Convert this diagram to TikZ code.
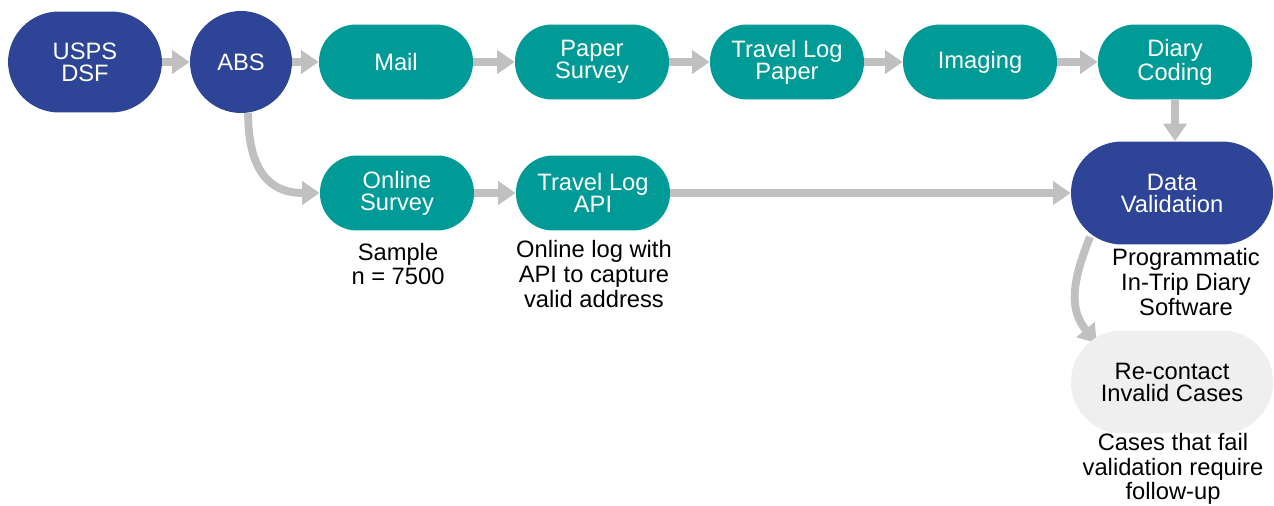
\documentclass[tikz,border=0pt]{standalone}
\usepackage{fontspec}
\setmainfont{Liberation Sans}
\usetikzlibrary{arrows.meta,backgrounds}

\definecolor{flowteal}{HTML}{009B97}
\definecolor{flowblue}{HTML}{2E4597}
\definecolor{flowgray}{HTML}{C0C0C0}
\definecolor{flowlight}{HTML}{EFEFEF}

\tikzset{
  pill/.style={rectangle,rounded corners=.74cm,minimum width=3.08cm,
    minimum height=1.5cm,inner sep=0pt,align=center,text=white,
    fill=flowteal,font=\fontsize{13.5}{12.5}\selectfont},
  bigpill/.style={pill,rounded corners=1.02cm,minimum width=4.04cm,
    minimum height=2.06cm},
  note/.style={align=center,inner sep=0pt,font=\fontsize{13.5}{14}\selectfont},
  flow/.style={draw=flowgray,line width=4.5pt,
    -{Triangle[length=10pt,width=13pt]}},
}

\begin{document}
\begin{tikzpicture}[x=.02cm,y=-.02cm]
    \useasboundingbox (0,0) rectangle (1274,506);

    %% source
    \node (usps) at (85,62) [bigpill,fill=flowblue,minimum width=3.08cm,
      minimum height=2.02cm] {USPS\\DSF};
    \node (abs) at (241,62) [pill,circle,fill=flowblue,minimum size=2.04cm] {ABS};

    %% paper path
    \node (mail) at (396,62) [pill] {Mail};
    \node (paper) at (592,62) [pill] {Paper\\Survey};
    \node (logpaper) at (787,62) [pill] {Travel Log\\Paper};
    \node (imaging) at (980,62) [pill] {Imaging};
    \node (coding) at (1175,62) [pill] {Diary\\Coding};

    %% online path
    \node (online) at (397,193) [pill] {Online\\Survey};
    \node (logapi) at (593,193) [pill] {Travel Log\\API};

    %% validation
    \node (dataval) at (1172,193) [bigpill,fill=flowblue] {Data\\Validation};
    \node (recontact) at (1172,382) [bigpill,fill=flowlight,text=black] {Re-contact\\Invalid Cases};

    %% notes
    \node (samplenote) at (398,264) [note] {Sample\\n = 7500};
    \node (apinote) at (594,274) [note] {Online log with\\API to capture\\valid address};
    \node (softnote) at (1186,282) [note] {Programmatic\\In-Trip Diary\\Software};
    \node (casenote) at (1173,469) [note] {Cases that fail\\validation require\\follow-up};

    %% arrows
    \begin{scope}[on background layer]
      \draw[flow] (usps.east) -- (abs.west);
      \draw[flow] (abs.east) -- (mail.west);
      \draw[flow] (mail) -- (paper);
      \draw[flow] (paper) -- (logpaper);
      \draw[flow] (logpaper) -- (imaging);
      \draw[flow] (imaging) -- (coding);
      \draw[flow] (coding.south) -- (coding.south |- dataval.north);
      \draw[flow] (abs.-82) .. controls +(0,70) and +(-40,0) .. (online.west);
      \draw[flow] (online) -- (logapi);
      \draw[flow] (logapi.east) -- (logapi.east -| dataval.west);
      \draw[flow] ([shift={(-82,-8)}]dataval.south) .. controls +(-18,45) and +(-28,-34)
        .. ([shift={(26,13)}]recontact.north west);
    \end{scope}
\end{tikzpicture}
\end{document}
